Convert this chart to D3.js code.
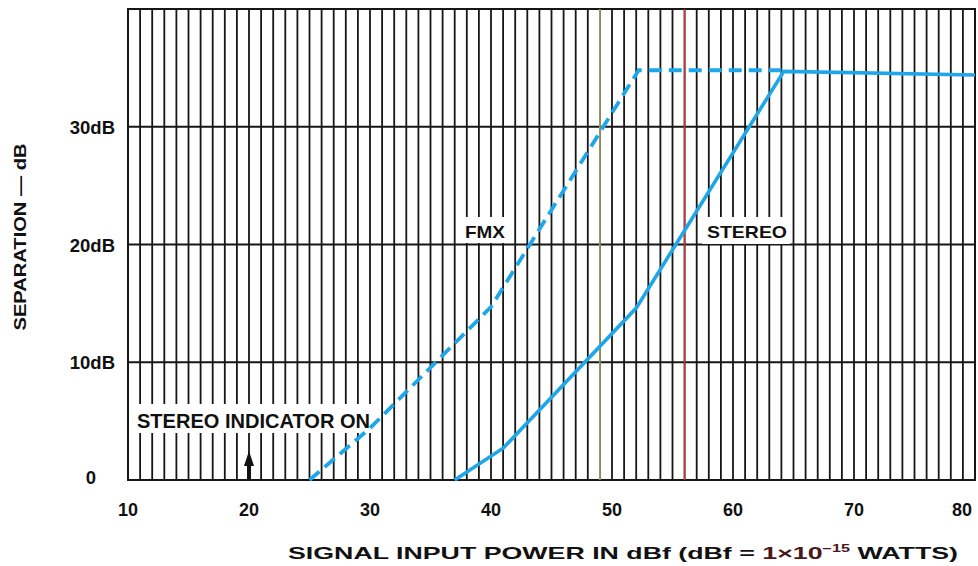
<!DOCTYPE html>
<html><head><meta charset="utf-8">
<script src="https://cdn.jsdelivr.net/npm/d3@7"></script>
<style>
html,body{margin:0;padding:0;background:#fff;}
text{font-family:"Liberation Sans",Arial,Helvetica,sans-serif;font-weight:bold;fill:#111;}
</style></head>
<body>
<svg id="chart" width="978" height="566"></svg>
<script>
// ---- data ----
const xTicks = [10, 20, 30, 40, 50, 60, 70, 80];
const yTicks = [0, 10, 20, 30];
const yTickLabels = ["0", "10dB", "20dB", "30dB"];
const fmxX = [25, 30, 40, 52.2, 64];
const fmxY = [0, 4.4, 14.7, 34.8, 34.8];
const stereoX = [37, 41, 52, 64.2, 80];
const stereoY = [0, 2.7, 14.6, 34.7, 34.4];
const markerGreen = 49;
const markerRed = 56;
const indicatorX = 20;

const svg = d3.select("#chart");
const x = d3.scaleLinear().domain([10, 80]).range([128, 975]);
const y = d3.scaleLinear().domain([0, 40]).range([480, 9]);

// vertical grid every 1 dBf
const g = svg.append("g");
g.selectAll("line.v").data(d3.range(11, 80)).join("line")
  .attr("x1", d => x(d)).attr("x2", d => x(d))
  .attr("y1", y(40)).attr("y2", y(0))
  .attr("stroke", "#161616").attr("stroke-width", 1.8);
// horizontal grid
g.selectAll("line.h").data([10, 20, 30]).join("line")
  .attr("x1", x(10)).attr("x2", x(80))
  .attr("y1", d => y(d)).attr("y2", d => y(d))
  .attr("stroke", "#161616").attr("stroke-width", 2);
// frame
g.append("rect").attr("x", x(10)).attr("y", y(40))
  .attr("width", x(80) - x(10)).attr("height", y(0) - y(40))
  .attr("fill", "none").attr("stroke", "#161616").attr("stroke-width", 2);

// colored marker lines
g.append("line").attr("x1", x(markerGreen)).attr("x2", x(markerGreen))
  .attr("y1", y(40)).attr("y2", y(0)).attr("stroke", "#a3a86a").attr("stroke-width", 1.6);
g.append("line").attr("x1", x(markerRed)).attr("x2", x(markerRed))
  .attr("y1", y(40)).attr("y2", y(0)).attr("stroke", "#c23a3a").attr("stroke-width", 1.6);

// white label boxes
const boxes = [
  {x0: 130, y0: 404, w: 248, h: 29},
  {x0: 462, y0: 217, w: 47, h: 26},
  {x0: 702, y0: 217, w: 88, h: 27}
];
svg.selectAll("rect.box").data(boxes).join("rect")
  .attr("x", d => d.x0).attr("y", d => d.y0).attr("width", d => d.w).attr("height", d => d.h)
  .attr("fill", "#fff");

// curves
const line = d3.line().x(d => x(d[0])).y(d => y(d[1]));
svg.append("path").datum(fmxX.map((v, i) => [v, fmxY[i]]))
  .attr("d", line).attr("fill", "none").attr("stroke", "#1ea6ea")
  .attr("stroke-width", 3.8).attr("stroke-dasharray", "13,7");
svg.append("path").datum(stereoX.map((v, i) => [v, stereoY[i]]))
  .attr("d", line).attr("fill", "none").attr("stroke", "#1ea6ea")
  .attr("stroke-width", 3.6);

// indicator arrow
svg.append("line").attr("x1", x(indicatorX)).attr("x2", x(indicatorX))
  .attr("y1", y(0)).attr("y2", 460).attr("stroke", "#111").attr("stroke-width", 4);
svg.append("path")
  .attr("d", `M${x(indicatorX)},451 L${x(indicatorX) + 5},466 L${x(indicatorX) - 5},466 Z`)
  .attr("fill", "#111");

// labels
svg.append("text").attr("x", 137).attr("y", 428).attr("font-size", 20)
  .attr("textLength", 233).attr("lengthAdjust", "spacingAndGlyphs").text("STEREO INDICATOR ON");
svg.append("text").attr("x", 465).attr("y", 238).attr("font-size", 16.5)
  .attr("textLength", 40).attr("lengthAdjust", "spacingAndGlyphs").text("FMX");
svg.append("text").attr("x", 707).attr("y", 238).attr("font-size", 17)
  .attr("textLength", 80).attr("lengthAdjust", "spacingAndGlyphs").text("STEREO");

// x axis tick labels
svg.selectAll("text.xt").data(xTicks).join("text")
  .attr("x", d => d === 80 ? x(d) - 13 : x(d)).attr("y", 516)
  .attr("text-anchor", "middle").attr("font-size", 18).text(d => d);

// y axis tick labels
svg.selectAll("text.yt").data(yTicks).join("text")
  .attr("x", d => d === 0 ? 91 : 115)
  .attr("y", d => y(d) + 7)
  .attr("dy", d => d === 0 ? -3 : 0)
  .attr("text-anchor", d => d === 0 ? "middle" : "end")
  .attr("font-size", 18.5).text((d, i) => yTickLabels[i]);

// axis titles
svg.append("text").attr("transform", "translate(26,237) rotate(-90)")
  .attr("text-anchor", "middle").attr("font-size", 17)
  .attr("textLength", 187).attr("lengthAdjust", "spacingAndGlyphs")
  .text("SEPARATION — dB");

const xt = svg.append("text").attr("x", 288).attr("y", 559).attr("font-size", 16.5)
  .attr("textLength", 670).attr("lengthAdjust", "spacingAndGlyphs");
xt.append("tspan").text("SIGNAL INPUT POWER IN dBf (dBf = ");
xt.append("tspan").attr("fill", "#4a1818").text("1×10");
xt.append("tspan").attr("font-size", 10).attr("dy", -7).attr("fill", "#4a1818").text("−15");
xt.append("tspan").attr("dy", 7).text(" WATTS)");
</script>
</body></html>
